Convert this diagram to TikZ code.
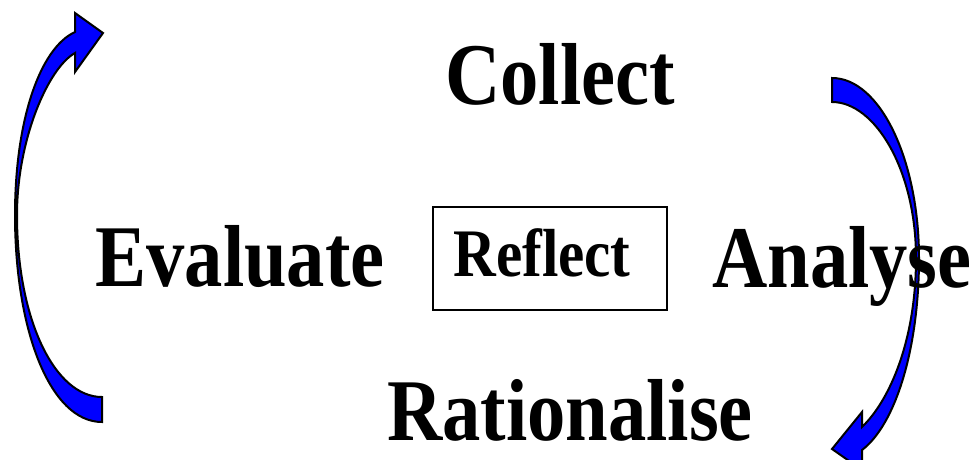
\documentclass[tikz,border=0pt]{standalone}
\usepackage{fontspec}
\setmainfont{Liberation Serif}
\tikzset{
  lbl/.style={inner sep=0pt, anchor=base, font=\bfseries\fontsize{88}{88}\selectfont},
  small/.style={inner sep=0pt, anchor=base, font=\bfseries\fontsize{68}{68}\selectfont},
  framebox/.style={draw=black, line width=1.5pt},
  blockarrow/.style={fill={rgb,255:red,0;green,0;blue,255}, draw=black, line width=2pt, line join=miter}
}
\begin{document}
\begin{tikzpicture}[x=1pt,y=-1pt]
\useasboundingbox (0,0) rectangle (978,459);
\clip (0,0) rectangle (978,459);
% texts
\node[lbl] (collect) at (560,104) {\scalebox{0.87}[1]{Collect}};
\node[lbl] (evaluate) at (240,286) {\scalebox{0.87}[1]{Evaluate}};
\node[lbl] (rationalise) at (570,440) {\scalebox{0.87}[1]{Rationalise}};
% box
\draw[framebox] (433,207) rectangle (667,310);
\node[small] (reflect) at (542,276) {\scalebox{0.87}[1]{Reflect}};
% left curved arrow
\draw[blockarrow] (102,422) .. controls (50,422) and (15,330) .. (15,215)
  .. controls (15,120) and (40,48) .. (75,32)
  -- (75,13) -- (103,33) -- (75,72) -- (75,53)
  .. controls (48,68) and (17,140) .. (17,215)
  .. controls (17,320) and (55,397) .. (102,397) -- cycle;
% right curved arrow
\draw[blockarrow] (832,78) .. controls (880,78) and (919,160) .. (919,258)
  .. controls (919,350) and (895,425) .. (862,450)
  -- (862,470) -- (832,449) -- (862,412) -- (862,427)
  .. controls (890,400) and (916,340) .. (916,258)
  .. controls (916,170) and (875,102) .. (832,102) -- cycle;
\node[lbl] (analyse) at (842,287) {\scalebox{0.87}[1]{Analyse}};
\end{tikzpicture}
\end{document}
